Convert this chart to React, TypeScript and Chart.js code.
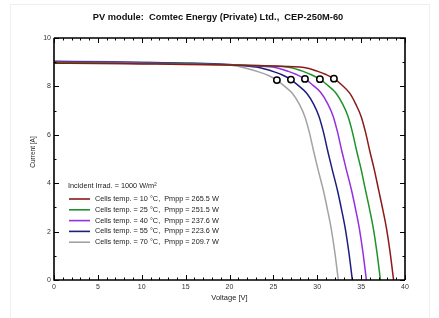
import React, { useEffect, useRef } from "react";
import { Chart, registerables } from "chart.js";

Chart.register(...registerables);

const TITLE = "PV module:  Comtec Energy (Private) Ltd.,  CEP-250M-60";
const X_TITLE = "Voltage [V]";
const Y_TITLE = "Current [A]";
const LEGEND_HEADER = "Incident Irrad. = 1000 W/m²";

const seriesLabels = [
  "Cells temp. = 10 °C,  Pmpp = 265.5 W",
  "Cells temp. = 25 °C,  Pmpp = 251.5 W",
  "Cells temp. = 40 °C,  Pmpp = 237.6 W",
  "Cells temp. = 55 °C,  Pmpp = 223.6 W",
  "Cells temp. = 70 °C,  Pmpp = 209.7 W",
];
const seriesColors = ["#8b1a1a", "#1f922a", "#9430e0", "#1e1e7e", "#a3a3a3"];

// 10 °C
const v10 = [0, 5, 10, 15, 20, 25, 28.5, 30.0, 31.0, 31.9, 32.8, 33.7, 34.4, 35.0, 35.5, 36.0, 36.5, 37.0, 37.5, 37.9, 38.3, 38.7];
const i10 = [8.96, 8.95, 8.93, 8.91, 8.88, 8.84, 8.78, 8.63, 8.49, 8.32, 8.06, 7.72, 7.26, 6.76, 6.11, 5.31, 4.56, 3.71, 2.86, 2.11, 1.15, 0];
// 25 °C
const v25 = [0, 5, 10, 15, 20, 24, 26.9, 28.4, 29.4, 30.3, 31.2, 32.1, 32.9, 33.5, 34.0, 34.5, 35.0, 35.5, 36.0, 36.4, 36.8, 37.2];
const i25 = [8.99, 8.97, 8.95, 8.93, 8.89, 8.85, 8.78, 8.62, 8.47, 8.3, 8.04, 7.74, 7.27, 6.77, 6.12, 5.32, 4.57, 3.71, 2.86, 2.11, 1.15, 0];
// 40 °C
const v40 = [0, 5, 10, 15, 20, 23, 25.2, 26.7, 27.7, 28.6, 29.5, 30.4, 31.2, 31.8, 32.3, 32.8, 33.3, 33.9, 34.4, 34.8, 35.2, 35.6];
const i40 = [9.01, 8.99, 8.97, 8.94, 8.89, 8.84, 8.78, 8.62, 8.48, 8.31, 8.05, 7.75, 7.28, 6.78, 6.13, 5.33, 4.58, 3.72, 2.87, 2.12, 1.16, 0];
// 55 °C
const v55 = [0, 5, 10, 15, 20, 22, 23.6, 25.1, 26.1, 27.0, 27.9, 28.8, 29.6, 30.2, 30.7, 31.2, 31.7, 32.3, 32.8, 33.2, 33.6, 34.0];
const i55 = [9.03, 9.01, 8.99, 8.96, 8.9, 8.84, 8.76, 8.6, 8.46, 8.28, 8.02, 7.72, 7.26, 6.76, 6.12, 5.32, 4.57, 3.71, 2.86, 2.11, 1.15, 0];
// 70 °C
const v70 = [0, 5, 10, 15, 18, 20, 22, 23.5, 24.5, 25.4, 26.3, 27.2, 28.0, 28.6, 29.1, 29.6, 30.1, 30.7, 31.2, 31.6, 32.0, 32.4];
const i70 = [9.05, 9.03, 9.0, 8.97, 8.93, 8.88, 8.74, 8.58, 8.44, 8.26, 8.0, 7.7, 7.24, 6.74, 6.1, 5.3, 4.55, 3.7, 2.85, 2.1, 1.15, 0];

// maximum power points
const mppV = [31.9, 30.3, 28.6, 27.0, 25.4];
const mppI = [8.32, 8.3, 8.31, 8.28, 8.26];

const xTicksMin = 0, xTicksMax = 40, xStep = 5;
const yTicksMin = 0, yTicksMax = 10, yStep = 2;

const FONT = "'Liberation Sans', Arial, sans-serif";

const curves = [
  [v10, i10],
  [v25, i25],
  [v40, i40],
  [v55, i55],
  [v70, i70],
];

const framePlugin = {
  id: "frameTicks",
  afterDraw(chart: any) {
    const { ctx, chartArea } = chart;
    const xs = chart.scales.x;
    const ys = chart.scales.y;
    const { left, right, top, bottom } = chartArea;
    ctx.save();
    ctx.strokeStyle = "#000";
    ctx.lineWidth = 1.6;
    ctx.beginPath();
    ctx.moveTo(left, top);
    ctx.lineTo(right, top);
    ctx.lineTo(right, bottom);
    ctx.moveTo(left, top);
    ctx.lineTo(left, bottom);
    ctx.lineTo(right, bottom);
    ctx.stroke();
    ctx.lineWidth = 1;
    ctx.beginPath();
    for (let v = xTicksMin; v <= xTicksMax; v += 1) {
      const px = Math.round(xs.getPixelForValue(v)) + 0.5;
      const len = v % xStep === 0 ? 5 : 2.5;
      ctx.moveTo(px, bottom);
      ctx.lineTo(px, bottom - len);
      ctx.moveTo(px, top);
      ctx.lineTo(px, top + len);
    }
    for (let v = yTicksMin; v <= yTicksMax; v += 1) {
      const py = Math.round(ys.getPixelForValue(v)) + 0.5;
      const len = v % yStep === 0 ? 5 : 2.5;
      ctx.moveTo(left, py);
      ctx.lineTo(left + len, py);
      ctx.moveTo(right, py);
      ctx.lineTo(right - len, py);
    }
    ctx.stroke();

    // y axis title
    ctx.fillStyle = "#222";
    ctx.font = `6.5px ${FONT}`;
    ctx.textAlign = "center";
    ctx.textBaseline = "middle";
    ctx.translate(33, 152);
    ctx.rotate(-Math.PI / 2);
    ctx.fillText(Y_TITLE, 0, 0);
    ctx.restore();

    // legend
    ctx.save();
    ctx.font = `7.3px ${FONT}`;
    ctx.fillStyle = "#222";
    ctx.textAlign = "left";
    ctx.textBaseline = "middle";
    const lx = left + 14;
    ctx.fillText(LEGEND_HEADER, lx, 186);
    seriesLabels.forEach((lab, k) => {
      const y = 199 + k * 10.8;
      ctx.strokeStyle = seriesColors[k];
      ctx.lineWidth = 1.6;
      ctx.beginPath();
      ctx.moveTo(lx + 1, y);
      ctx.lineTo(lx + 22, y);
      ctx.stroke();
      ctx.fillText(lab, lx + 27, y);
    });
    ctx.restore();
  },
};

export default function App() {
  const ref = useRef<HTMLCanvasElement>(null);
  useEffect(() => {
    if (!ref.current) return;
    const datasets: any[] = curves.map(([vs, is], k) => ({
      type: "line",
      label: seriesLabels[k],
      data: vs.map((v, j) => ({ x: v, y: is[j] })),
      borderColor: seriesColors[k],
      borderWidth: 1.5,
      pointRadius: 0,
      fill: false,
      cubicInterpolationMode: "monotone",
      order: 2,
    }));
    datasets.push({
      type: "scatter",
      label: "MPP",
      data: mppV.map((v, j) => ({ x: v, y: mppI[j] })),
      pointRadius: 3.2,
      pointBorderWidth: 1.5,
      pointBorderColor: "#000",
      pointBackgroundColor: "#fff",
      showLine: false,
      order: 1,
    });
    const chart = new Chart(ref.current, {
      type: "line",
      data: { datasets },
      plugins: [framePlugin],
      options: {
        responsive: false,
        animation: false,
        layout: { padding: { left: 31, right: 34, top: 0, bottom: 0 } },
        plugins: {
          legend: { display: false },
          tooltip: { enabled: false },
          title: {
            display: true,
            text: TITLE,
            color: "#111",
            font: { family: FONT, size: 9.3, weight: "bold", lineHeight: 1.2 },
            padding: { top: 12, bottom: 14.84 },
          },
        },
        scales: {
          x: {
            type: "linear",
            min: xTicksMin,
            max: xTicksMax,
            grid: { display: false, drawTicks: false },
            border: { display: false },
            ticks: {
              stepSize: xStep,
              padding: 3,
              color: "#333",
              font: { family: FONT, size: 7 },
              maxRotation: 0,
            },
            title: {
              display: true,
              text: X_TITLE,
              color: "#222",
              font: { family: FONT, size: 7.5, lineHeight: 1.2 },
              padding: { top: 0, bottom: 15.5 },
            },
            afterFit(scale: any) {
              scale.height = 38;
            },
          },
          y: {
            type: "linear",
            min: yTicksMin,
            max: yTicksMax,
            grid: { display: false, drawTicks: false },
            border: { display: false },
            ticks: {
              stepSize: yStep,
              padding: 3,
              color: "#333",
              font: { family: FONT, size: 7 },
            },
            afterFit(scale: any) {
              scale.width = 23;
            },
          },
        },
      },
    } as any);
    return () => chart.destroy();
  }, []);
  return (
    <div style={{ position: "fixed", left: 0, top: 0, width: 439, height: 318, background: "#fff" }}>
      <div
        style={{
          position: "absolute",
          left: 10,
          top: 4,
          width: 420,
          height: 320,
          border: "1px solid #efefef",
          boxSizing: "border-box",
        }}
      />
      <canvas ref={ref} width={439} height={318} style={{ position: "absolute", left: 0, top: 0 }} />
    </div>
  );
}
